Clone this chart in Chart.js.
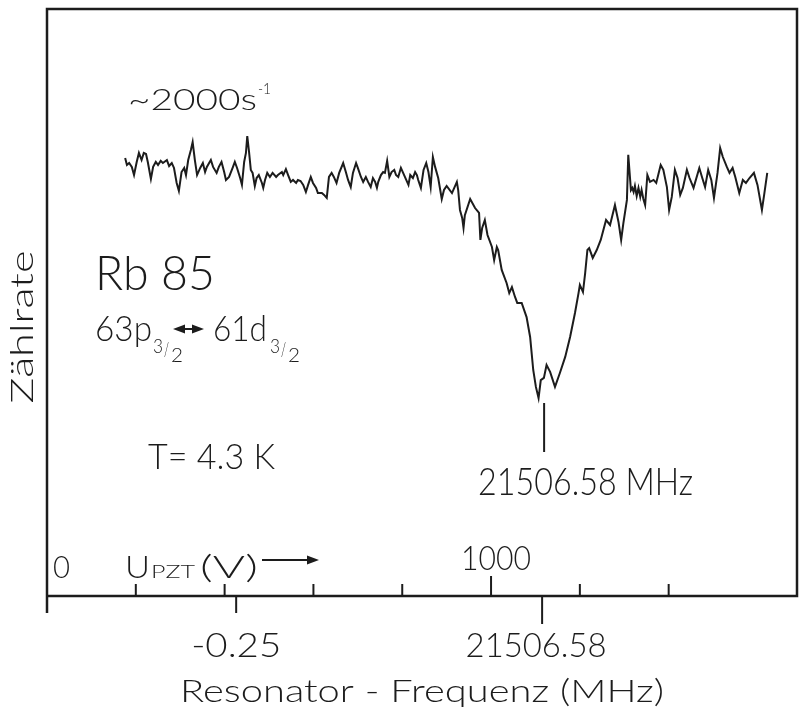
<!DOCTYPE html>
<html>
<head>
<meta charset="utf-8">
<script src="https://cdn.jsdelivr.net/npm/chart.js@4.4.1/dist/chart.umd.min.js"></script>
<style>html,body{margin:0;background:#fff}canvas{display:block}</style>
</head>
<body>
<canvas id="c" width="800" height="707"></canvas>
<script>
// piezo voltage U_PZT (V) and count rate (s^-1)
const volts = [176,180,185,191,196,202,207,213,218,223,227,234,239,245,250,256,261,270,275,281,286,292,297,303,309,313,318,324,328,333,338,345,351,356,360,369,374,382,387,393,399,403,410,418,423,428,435,439,444,448,451,455,459,463,468,472,477,484,487,491,496,502,508,516,520,529,532,538,543,549,554,561,565,571,577,583,588,594,599,606,610,619,624,630,635,641,646,652,658,667,673,678,684,689,696,700,707,712,718,723,729,734,739,743,746,752,757,761,766,771,776,782,786,791,797,802,809,814,818,824,829,833,836,842,848,854,859,864,869,874,881,889,894,900,912,923,926,930,935,938,941,953,964,973,976,980,986,992,1002,1007,1013,1016,1024,1035,1041,1047,1054,1059,1069,1080,1088,1095,1101,1107,1112,1119,1125,1133,1144,1155,1167,1178,1189,1197,1200,1207,1212,1217,1221,1229,1238,1247,1259,1268,1279,1287,1293,1298,1306,1309,1315,1318,1321,1324,1328,1332,1336,1339,1343,1347,1352,1358,1366,1372,1382,1388,1396,1401,1407,1414,1420,1426,1432,1441,1447,1456,1469,1475,1482,1489,1496,1502,1510,1516,1522,1531,1537,1544,1550,1559,1567,1574,1582,1592,1600,1610,1615,1622];
const counts = [2045,2012,2021,2003,1965,2026,2068,2035,2068,2063,2026,1947,2003,2026,2012,2031,2021,2035,2007,2021,1998,1928,1891,1979,1998,1965,2035,2082,2119,2035,1965,1998,2021,1979,2003,2035,2003,1975,2003,2026,1979,1942,1956,1998,2026,1998,1951,1919,2026,2068,2147,2073,1989,1975,1914,1951,1965,1928,1905,1942,1975,1956,1975,1956,1965,1979,1965,1993,1965,1933,1942,1928,1942,1937,1919,1886,1919,1956,1928,1905,1881,1881,1872,1858,1956,1975,1956,1928,1975,2021,1979,1942,1909,1975,2021,1998,1956,1933,1956,1933,1909,1951,1933,1905,1933,1965,1979,1975,2031,1956,1979,1989,1965,1956,1998,1975,1942,1919,1965,1951,1979,1965,1942,1905,1989,2021,1979,1909,2049,2003,1951,1853,1895,1914,1881,1933,1895,1802,1765,1718,1778,1853,1811,1788,1662,1718,1755,1685,1629,1568,1629,1615,1522,1461,1414,1442,1396,1368,1368,1302,1209,1055,976,924,1008,1018,1078,1046,976,1041,1116,1209,1321,1414,1452,1419,1508,1615,1624,1578,1615,1662,1755,1732,1825,1746,1662,1741,1849,2059,1895,1905,1886,1914,1867,1905,1863,1895,1853,1825,1965,1933,1942,1928,2012,1989,1909,1802,1863,1989,1951,1872,1905,1989,1951,1905,1998,1956,1909,1989,1942,1858,1975,2091,2049,2003,1975,1998,1956,1881,1942,1928,1951,1975,1919,1802,1872,1975];

const voltTicks = [200, 400, 600, 800, 1000, 1200, 1400];
const voltLabels = ['', '', '', '', '1000', '', ''];
const freqTicks = [-0.25, 0];
const freqLabels = ['-0.25', '21506.58'];

// frequency axis: 0 MHz offset sits at 1115 V, 0.25 MHz per 689 V
const f0Volt = 1115, voltPerMHz = 689 / 0.25, voltMax = 1689;
const ink = '#1c1c1c';
const face = 'Lato';

function txt(ctx, str, x, y, size, w, align) {
  ctx.font = `300 ${size}px ${face}`;
  const sx = w ? w / ctx.measureText(str).width : 1;
  ctx.save();
  ctx.translate(x, y);
  ctx.scale(sx, 1);
  ctx.textAlign = align || 'left';
  ctx.textBaseline = 'alphabetic';
  ctx.fillText(str, 0, 0);
  ctx.restore();
}

function arrowHead(ctx, x, y, dir) {
  ctx.beginPath();
  ctx.moveTo(x, y);
  ctx.lineTo(x - dir * 12, y - 4.5);
  ctx.lineTo(x - dir * 12, y + 4.5);
  ctx.closePath();
  ctx.fill();
}

function subFrac(ctx, x, y) {
  txt(ctx, '3', x, y + 12, 19, 10);
  txt(ctx, '/', x + 11, y + 15, 19, 5);
  txt(ctx, '2', x + 18, y + 21, 19, 12);
}

const frame = {
  id: 'frame',
  afterDraw(chart) {
    const { ctx, chartArea: a, scales: { x, x2 } } = chart;
    ctx.save();
    ctx.strokeStyle = ink;
    ctx.fillStyle = ink;
    ctx.lineWidth = 2.5;
    ctx.beginPath();
    ctx.moveTo(a.left, a.bottom + 17);
    ctx.lineTo(a.left, a.top);
    ctx.lineTo(a.right, a.top);
    ctx.lineTo(a.right, a.bottom);
    ctx.lineTo(a.left, a.bottom);
    ctx.stroke();

    // voltage ticks point up into the plot
    ctx.lineWidth = 2;
    voltTicks.forEach((v, i) => {
      const px = x.getPixelForValue(v);
      ctx.beginPath();
      ctx.moveTo(px, a.bottom);
      ctx.lineTo(px, a.bottom - (voltLabels[i] ? 20 : 12));
      ctx.stroke();
      if (voltLabels[i]) txt(ctx, voltLabels[i], px + 5, a.bottom - 26, 34, 70, 'center');
    });
    txt(ctx, '0', a.left + 6, a.bottom - 18, 32, 17);
    txt(ctx, 'U', 125, a.bottom - 18, 32, 25);
    txt(ctx, 'PZT', 151, a.bottom - 18, 18, 44);
    txt(ctx, '(V)', 200, a.bottom - 18, 32, 58);
    ctx.beginPath();
    ctx.moveTo(262, 560);
    ctx.lineTo(308, 560);
    ctx.stroke();
    arrowHead(ctx, 319, 560, 1);

    // frequency ticks point down
    freqTicks.forEach((f, i) => {
      const px = x2.getPixelForValue(f);
      ctx.beginPath();
      ctx.moveTo(px, a.bottom);
      ctx.lineTo(px, a.bottom + (f === 0 ? 28 : 17));
      ctx.stroke();
      txt(ctx, freqLabels[i], px - (f === 0 ? 6 : 0), 657, 33, f === 0 ? 141 : 90, 'center');
    });
    txt(ctx, 'Resonator - Frequenz (MHz)', 180, 702, 32, 484);

    // resonance marker
    const m = x2.getPixelForValue(0);
    ctx.beginPath();
    ctx.moveTo(m + 2, 403);
    ctx.lineTo(m + 2, 452);
    ctx.stroke();
    txt(ctx, '21506.58 MHz', 478, 495, 37, 215);

    // annotations
    txt(ctx, '~2000s', 128, 110, 30, 129);
    txt(ctx, '-1', 258, 94, 16, 13);
    txt(ctx, 'Rb 85', 95, 290, 48, 120);
    txt(ctx, '63p', 95, 341, 35, 57);
    subFrac(ctx, 153, 341);
    ctx.lineWidth = 2;
    ctx.beginPath();
    ctx.moveTo(178, 329);
    ctx.lineTo(198, 329);
    ctx.stroke();
    arrowHead(ctx, 173, 329, -1);
    arrowHead(ctx, 204, 329, 1);
    txt(ctx, '61d', 213, 341, 35, 54);
    subFrac(ctx, 270, 341);
    txt(ctx, 'T= 4.3 K', 148, 469, 36, 127);

    ctx.save();
    ctx.translate(33, 327);
    ctx.rotate(-Math.PI / 2);
    txt(ctx, 'Zählrate', 0, 0, 32, 153, 'center');
    ctx.restore();
    ctx.restore();
  }
};

new Chart(document.getElementById('c'), {
  type: 'line',
  data: {
    datasets: [{
      data: volts.map((v, i) => ({ x: v, y: counts[i] })),
      borderColor: ink,
      borderWidth: 2,
      pointRadius: 0,
      tension: 0
    }]
  },
  options: {
    responsive: false,
    animation: false,
    layout: { padding: { left: 47, top: 9, right: 3, bottom: 111 } },
    plugins: { legend: { display: false }, tooltip: { enabled: false } },
    scales: {
      x: { type: 'linear', min: 0, max: voltMax, display: false },
      x2: { type: 'linear', min: (0 - f0Volt) / voltPerMHz, max: (voltMax - f0Volt) / voltPerMHz, display: false },
      y: { min: 0, max: 2740, display: false }
    }
  },
  plugins: [frame]
});
</script>
</body>
</html>
